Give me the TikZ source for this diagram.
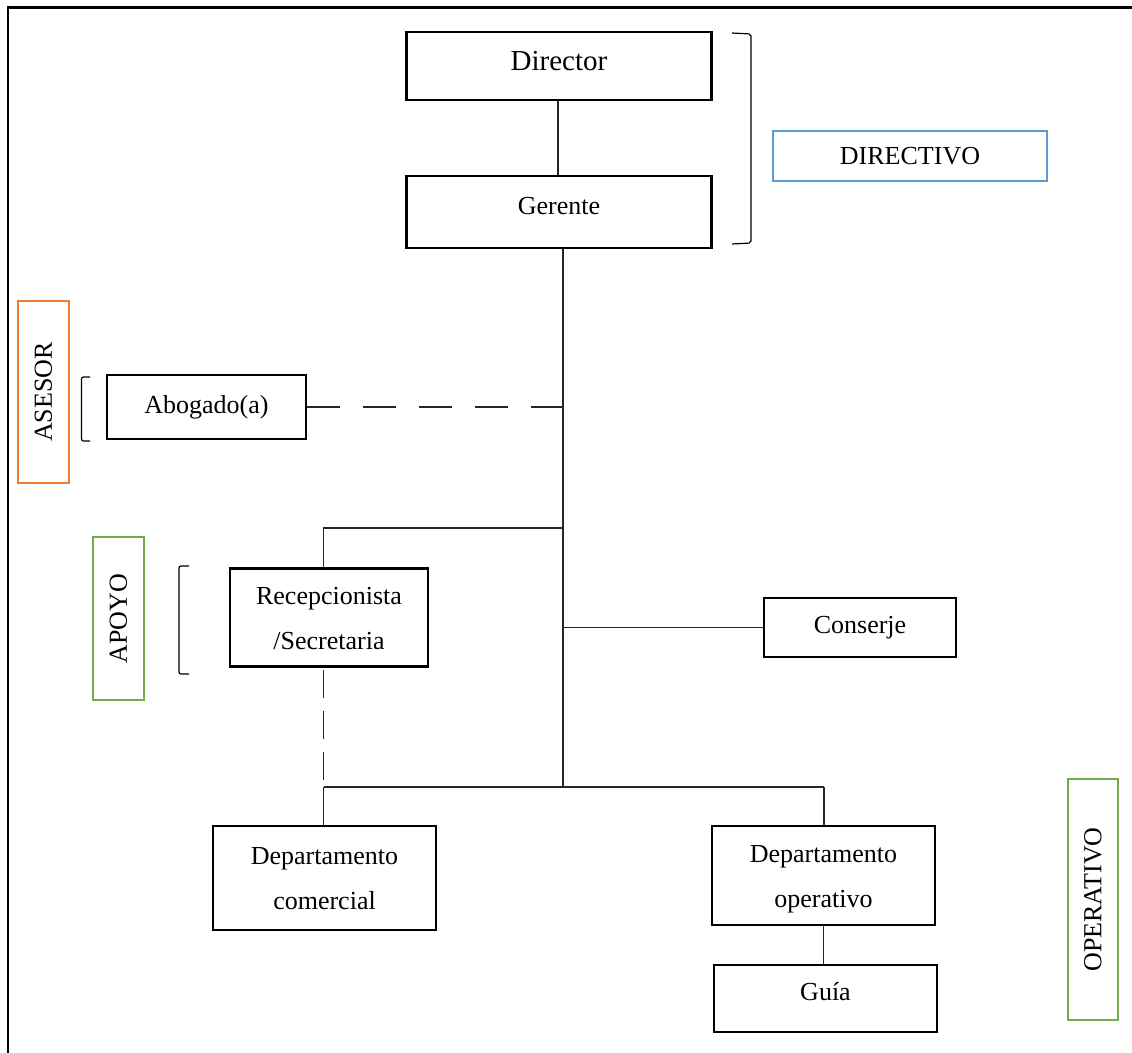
\documentclass[tikz,border=0pt]{standalone}
\usepackage{fontspec}
\setmainfont{Liberation Serif}
\definecolor{dirc}{HTML}{5B9BD5}
\definecolor{asec}{HTML}{ED7D31}
\definecolor{grn}{HTML}{70AD47}
\newcommand{\duoline}[2]{\begin{tabular}{@{}c@{}}#1\\#2\end{tabular}}
\begin{document}
\begin{tikzpicture}[x=1pt,y=-1pt,
  box/.style={draw, line width=2.6pt, rectangle, inner sep=0pt, align=center, font=\fontsize{26}{45}\selectfont},
  tag/.style={draw, line width=1.8pt, rectangle, inner sep=0pt, font=\fontsize{26}{30}\selectfont},
  conn/.style={line width=1.3pt, draw=black!85},
  dashconn/.style={conn, dash pattern=on 33pt off 23pt},
  vdashconn/.style={conn, dash pattern=on 28pt off 13pt},
  brk/.style={line width=1.2pt, rounded corners=2pt}]
\useasboundingbox (0,0) rectangle (1132,1052);
% frame
\draw[line width=2.6pt] (8,1070) -- (8,7.5) -- (1150,7.5);

% boxes
\node[box, minimum width=305pt, minimum height=68pt, font=\fontsize{29}{34}\selectfont, text height=19pt, text depth=11pt] (dir) at (559,66) {Director};
\node[box, minimum width=305pt, minimum height=72pt, text height=18pt, text depth=14pt] (ger) at (559,212) {Gerente};
\node[box, minimum width=199pt, minimum height=64pt] (abo) at (206.5,407) {Abogado(a)};
\node[box, minimum width=198pt, minimum height=98pt] (rec) at (329,617.5) {\duoline{Recepcionista}{/Secretaria}};
\node[box, minimum width=192pt, minimum height=59pt] (con) at (860,627.5) {Conserje};
\node[box, minimum width=223pt, minimum height=104pt] (dcom) at (324.5,878) {\duoline{Departamento}{comercial}};
\node[box, minimum width=223pt, minimum height=99pt] (dop) at (823.5,875.5) {\duoline{Departamento}{operativo}};
\node[box, minimum width=223pt, minimum height=67pt, text height=17pt, text depth=13pt] (guia) at (825.5,998.5) {Guía};

% level tags
\node[tag, draw=dirc, minimum width=274pt, minimum height=50pt] (directivo) at (910,156) {DIRECTIVO};
\node[tag, draw=asec, rotate=90, minimum width=182pt, minimum height=51pt] (asesor) at (43.5,392) {ASESOR};
\node[tag, draw=grn, rotate=90, minimum width=163pt, minimum height=51pt] (apoyo) at (118.5,618.5) {APOYO};
\node[tag, draw=grn, rotate=90, minimum width=241pt, minimum height=50pt] (operativo) at (1093,899.5) {OPERATIVO};

% brackets
\draw[brk] (732,33) -- (751,34) -- (751,243) -- (732,244);
\draw[brk] (90,377) -- (81.5,377) -- (81.5,441) -- (90,441);
\draw[brk] (189,566) -- (179,566) -- (179,674) -- (189,674);

% junction coordinates
\coordinate (tk) at (563,787);
\coordinate (bx) at (323.5,528);
\coordinate (jl) at (323.5,787);
\coordinate (jr) at (824,787);

% connectors
\draw[conn] (dir.south -| 558,0) -- (ger.north -| 558,0);
\draw[conn] (ger.south -| tk) -- (tk);
\draw[dashconn] (abo.east) -- (abo.east -| tk);
\draw[conn] (tk |- bx) -- (bx) -- (bx |- rec.north);
\draw[conn] (tk |- con.west) -- (con.west);
\draw[vdashconn] ([yshift=-2pt]bx |- rec.south) -- (jl);
\draw[conn] (jl) -- (jr);
\draw[conn] (jl) -- (jl |- dcom.north);
\draw[conn] (jr) -- (jr |- dop.north);
\draw[conn] (dop.south -| 823.5,0) -- (guia.north -| 823.5,0);
\end{tikzpicture}
\end{document}
